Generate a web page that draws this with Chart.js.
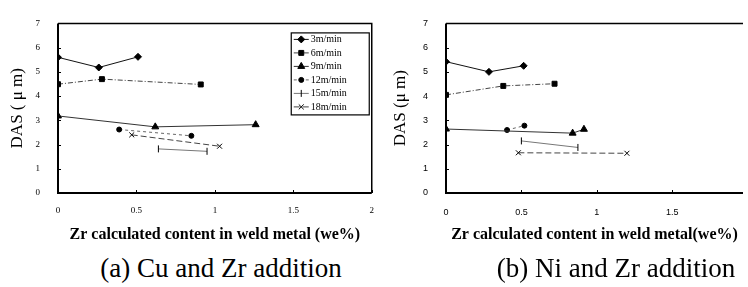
<!DOCTYPE html>
<html>
<head>
<meta charset="utf-8">
<script src="https://cdn.jsdelivr.net/npm/chart.js@4.4.1/dist/chart.umd.min.js"></script>
<style>
  body { margin: 0; background: #fff; width: 748px; height: 287px; overflow: hidden; position: relative; font-family: "Liberation Serif", "Times New Roman", Times, "DejaVu Serif", serif; }
  #cuChart { position: absolute; left: 0; top: 0; }
  #niChart { position: absolute; left: 370px; top: 0; }
  .caption { position: absolute; top: 253px; font-size: 27px; line-height: 30px; color: #000; white-space: nowrap; transform: translateX(-50%); }
</style>
</head>
<body>
<canvas id="cuChart" width="386" height="250"></canvas>
<canvas id="niChart" width="378" height="250"></canvas>
<div class="caption" style="left:221px">(a) Cu and Zr addition</div>
<div class="caption" style="left:616px">(b) Ni and Zr addition</div>
<script>
const SERIF = '"Liberation Serif", "Times New Roman", Times, "DejaVu Serif", serif';
const SANS = '"Liberation Sans", Arial, Helvetica, sans-serif';

const speeds = ['3m/min', '6m/min', '9m/min', '12m/min', '15m/min', '18m/min'];
const yTicks = [0, 1, 2, 3, 4, 5, 6, 7];
const xTicksCu = [0, 0.5, 1, 1.5, 2];
const xTicksNi = [0, 0.5, 1, 1.5];

// (a) Cu + Zr
const cuX = [
    [0, 0.26, 0.51],
    [0, 0.28, 0.91],
    [0, 0.62, 1.26],
    [0.39, 0.85],
    [0.64, 0.95],
    [0.47, 1.03]
];
const cuY = [
    [5.6, 5.18, 5.62],
    [4.49, 4.7, 4.48],
    [3.18, 2.73, 2.82],
    [2.62, 2.36],
    [1.82, 1.72],
    [2.4, 1.93]
];

// (b) Ni + Zr
const niX = [
    [0, 0.285, 0.515],
    [0, 0.38, 0.72],
    [0, 0.84, 0.915],
    [0.405, 0.52],
    [0.5, 0.875],
    [0.48, 1.2]
];
const niY = [
    [5.42, 5.0, 5.25],
    [4.05, 4.42, 4.51],
    [2.64, 2.47, 2.63],
    [2.6, 2.78],
    [2.15, 1.88],
    [1.66, 1.64]
];

const pointStyles = ['rectRot', 'rect', 'triangle', 'circle', 'line', 'crossRot'];
const pointSizes = [3.5, 3.5, 4, 2.5, 3.5, 3.5];
const dashes = [[], [5, 2, 1, 2], [], [3, 3], [], [6, 3]];
const lineColors = ['#111', '#444', '#333', '#666', '#777', '#444'];

function makeDatasets(xs, ys) {
    return speeds.map((label, i) => ({
        label: label,
        data: xs[i].map((x, j) => ({ x: x, y: ys[i][j] })),
        showLine: true,
        borderColor: lineColors[i],
        borderWidth: 1,
        borderDash: dashes[i],
        pointStyle: pointStyles[i],
        pointRadius: pointSizes[i],
        pointRotation: i === 4 ? 90 : 0,
        pointBackgroundColor: '#000',
        pointBorderColor: '#000',
        pointBorderWidth: 1,
        tension: 0
    }));
}

// box round the plot + small inward ticks
const framePlugin = {
    id: 'frame',
    afterDraw(chart, args, opts) {
        const { ctx, chartArea: a } = chart;
        const sx = chart.scales.x, sy = chart.scales.y;
        ctx.save();
        ctx.strokeStyle = '#000';
        ctx.lineWidth = 1;
        ctx.beginPath();
        yTicks.forEach(v => {
            const py = Math.round(sy.getPixelForValue(v)) + 0.5;
            ctx.moveTo(a.left, py);
            ctx.lineTo(a.left + 3, py);
        });
        opts.xTicks.forEach(v => {
            const px = Math.round(sx.getPixelForValue(v)) + 0.5;
            ctx.moveTo(px, a.bottom);
            ctx.lineTo(px, a.bottom - 3);
        });
        ctx.stroke();
        ctx.lineWidth = 2;
        ctx.beginPath();
        ctx.moveTo(a.left, a.top);
        ctx.lineTo(a.left, a.bottom);
        ctx.lineTo(a.right, a.bottom);
        ctx.stroke();
        ctx.lineWidth = 1.5;
        ctx.beginPath();
        ctx.moveTo(a.left, a.top);
        ctx.lineTo(a.right, a.top);
        if (opts.right) ctx.lineTo(a.right, a.bottom);
        ctx.stroke();
        ctx.restore();
    }
};

// legend drawn inside the plot, top right
const boxLegend = {
    id: 'boxLegend',
    afterDraw(chart) {
        const { ctx, chartArea: a } = chart;
        const left = a.right - 81, top = a.top + 9, w = 78, h = 82;
        ctx.save();
        ctx.fillStyle = '#fff';
        ctx.fillRect(left, top, w, h);
        ctx.strokeStyle = '#000';
        ctx.lineWidth = 1.2;
        ctx.strokeRect(left + 0.5, top + 0.5, w, h);
        ctx.font = '10px ' + SERIF;
        ctx.textBaseline = 'middle';
        chart.data.datasets.forEach((ds, i) => {
            const yy = top + 7 + i * 13.5;
            ctx.strokeStyle = ds.borderColor;
            ctx.lineWidth = 1;
            ctx.setLineDash(ds.borderDash);
            ctx.beginPath();
            ctx.moveTo(left + 3, yy);
            ctx.lineTo(left + 18, yy);
            ctx.stroke();
            ctx.setLineDash([]);
            ctx.fillStyle = '#000';
            ctx.strokeStyle = '#000';
            if (Chart.helpers && Chart.helpers.drawPoint) {
                Chart.helpers.drawPoint(ctx, { pointStyle: ds.pointStyle, radius: ds.pointRadius, rotation: ds.pointRotation, borderWidth: 1 }, left + 10.5, yy);
            }
            ctx.fillText(ds.label, left + 20, yy);
        });
        ctx.restore();
    }
};

function makeScales(xTicks, xMax, tickFont, xTitle, yTitle, yTitlePad, yWidth, yLabelPad, xLabelPad) {
    return {
        x: {
            type: 'linear',
            min: 0,
            max: xMax,
            afterBuildTicks: s => { s.ticks = xTicks.map(v => ({ value: v })); },
            grid: { display: false, drawTicks: false },
            border: { display: false },
            ticks: { font: tickFont, color: '#000', padding: xLabelPad, maxRotation: 0, callback: v => String(v) },
            title: {
                display: true,
                text: xTitle,
                font: { family: SERIF, size: 16, weight: 'bold' },
                color: '#000',
                padding: { top: 0, bottom: 6 }
            },
            afterFit: s => { s.height = 57; }
        },
        y: {
            type: 'linear',
            min: 0,
            max: 7,
            afterBuildTicks: s => { s.ticks = yTicks.map(v => ({ value: v })); },
            grid: { display: false, drawTicks: false },
            border: { display: false },
            ticks: { font: tickFont, color: '#000', padding: yLabelPad },
            title: {
                display: true,
                text: yTitle,
                font: { family: SERIF, size: 17 },
                color: '#000',
                padding: { top: yTitlePad, bottom: 0 }
            },
            afterFit: s => { s.width = yWidth; }
        }
    };
}

new Chart(document.getElementById('cuChart'), {
    type: 'scatter',
    data: { datasets: makeDatasets(cuX, cuY) },
    options: {
        responsive: false,
        animation: false,
        layout: { padding: { top: 16, right: 3, left: 0, bottom: 0 } },
        plugins: { legend: { display: false }, tooltip: { enabled: false }, frame: { xTicks: xTicksCu, right: true } },
        scales: makeScales(xTicksCu, 2, { family: SERIF, size: 9 },
            'Zr calculated content in weld metal (we%)', 'DAS ( μ m)', 7, 58, 18, 12)
    },
    plugins: [framePlugin, boxLegend]
});

new Chart(document.getElementById('niChart'), {
    type: 'scatter',
    data: { datasets: makeDatasets(niX, niY) },
    options: {
        responsive: false,
        animation: false,
        layout: { padding: { top: 16, right: 0, left: 0, bottom: 0 } },
        plugins: { legend: { display: false }, tooltip: { enabled: false }, frame: { xTicks: xTicksNi, right: false } },
        scales: makeScales(xTicksNi, 1.97, { family: SANS, size: 9 },
            'Zr calculated content in weld metal(we%)', 'DAS (μ m)', 20, 76, 18, 14)
    },
    plugins: [framePlugin]
});
</script>
</body>
</html>
